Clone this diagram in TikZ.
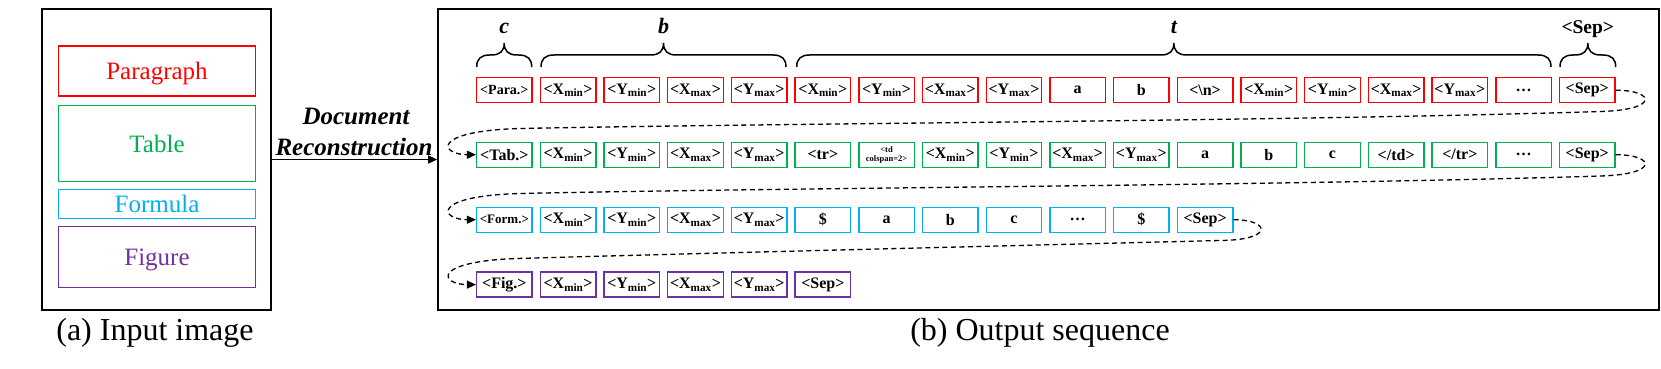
\documentclass[tikz,border=0pt]{standalone}
\usepackage{fontspec}
\setmainfont{Liberation Serif}
\usetikzlibrary{arrows.meta}
\definecolor{cred}{RGB}{255,0,0}
\definecolor{cgreen}{RGB}{0,176,80}
\definecolor{ccyan}{RGB}{0,176,240}
\definecolor{cpurple}{RGB}{112,48,160}
\newcommand{\Xmin}{<X\textsubscript{min}>}
\newcommand{\Ymin}{<Y\textsubscript{min}>}
\newcommand{\Xmax}{<X\textsubscript{max}>}
\newcommand{\Ymax}{<Y\textsubscript{max}>}
\newcommand{\paratok}{{\fontsize{14}{16}\selectfont <Para.>}}
\newcommand{\formtok}{{\fontsize{13}{15}\selectfont <Form.>}}
\newcommand{\tdcol}{{\fontsize{8.5}{9}\selectfont\shortstack{<td\\colspan=2>}}}
\newcommand{\tokbrace}[2]{%
  \draw[brc] (#1,67) .. controls (#1,59) and ({#1+4},55) .. ({#1+13},55)
    -- ({(#1+#2)/2-13},55) .. controls ({(#1+#2)/2-4},55) and ({(#1+#2)/2},51) .. ({(#1+#2)/2},43)
    .. controls ({(#1+#2)/2},51) and ({(#1+#2)/2+4},55) .. ({(#1+#2)/2+13},55)
    -- ({#2-13},55) .. controls ({#2-4},55) and (#2,59) .. (#2,67);}
\begin{document}
\begin{tikzpicture}[x=1pt,y=-1pt,
  tok/.style={draw, line width=1.4pt, minimum width=55.5pt, minimum height=25pt, inner sep=0pt, font=\fontsize{16}{18}\selectfont\bfseries},
  region/.style={draw, line width=1.4pt, minimum width=196.6pt, inner sep=0pt, text depth=0pt, font=\fontsize{25}{30}\selectfont},
  panel/.style={draw, line width=1.6pt, inner sep=0pt},
  conn/.style={line width=1.3pt, dash pattern=on 5pt off 3.5pt, -{Triangle[length=9pt,width=8pt]}},
  brc/.style={line width=1.5pt},
  blabel/.style={anchor=base, font=\fontsize{22}{26}\selectfont\bfseries\itshape},
  captxt/.style={anchor=base, font=\fontsize{32}{36}\selectfont},
]
\useasboundingbox (0,0) rectangle (1661,369);
% left panel
\node[panel, minimum width=229pt, minimum height=301pt] (inimg) at (156.5,159.5) {};
\node[region, draw=cred, text=cred, minimum height=50pt] (para) at (157,71) {Paragraph};
\node[region, draw=cgreen, text=cgreen, minimum height=75.6pt] (table) at (157,143.5) {Table};
\node[region, draw=ccyan, text=ccyan, minimum height=29pt] (formula) at (157,203.8) {Formula};
\node[region, draw=cpurple, text=cpurple, minimum height=61pt] (figure) at (157,256.8) {Figure};
\node[captxt] (capa) at (155,340) {(a) Input image};
% right panel
\node[panel, minimum width=1221pt, minimum height=301pt] (outseq) at (1048.5,159.5) {};
\node[captxt] (capb) at (1040,340) {(b) Output sequence};
% main arrow
\draw[line width=1.5pt, -{Triangle[length=9pt,width=8pt]}] (inimg) -- (outseq);
\node[anchor=base, font=\fontsize{25}{30}\selectfont\bfseries\itshape] (doc) at (356,124) {Document};
\node[anchor=base, font=\fontsize{25}{30}\selectfont\bfseries\itshape] (rec) at (354,155.5) {Reconstruction};
% rows
\foreach \lab [count=\i from 0] in {\paratok,\Xmin,\Ymin,\Xmax,\Ymax,\Xmin,\Ymin,\Xmax,\Ymax,a,b,<\textbackslash n>,\Xmin,\Ymin,\Xmax,\Ymax,\ldots,<Sep>}
  \node[tok, draw=cred] (r1b\i) at ({504.35+63.7*\i},90.2) {\lab};
\foreach \lab [count=\i from 0] in {<Tab.>,\Xmin,\Ymin,\Xmax,\Ymax,<tr>,\tdcol,\Xmin,\Ymin,\Xmax,\Ymax,a,b,c,</td>,</tr>,\ldots,<Sep>}
  \node[tok, draw=cgreen] (r2b\i) at ({504.35+63.7*\i},154.7) {\lab};
\foreach \lab [count=\i from 0] in {\formtok,\Xmin,\Ymin,\Xmax,\Ymax,\$,a,b,c,\ldots,\$,<Sep>}
  \node[tok, draw=ccyan] (r3b\i) at ({504.35+63.7*\i},219.7) {\lab};
\foreach \lab [count=\i from 0] in {<Fig.>,\Xmin,\Ymin,\Xmax,\Ymax,<Sep>}
  \node[tok, draw=cpurple] (r4b\i) at ({504.35+63.7*\i},284.6) {\lab};
% braces
\tokbrace{476.7}{531.7}
\tokbrace{541}{786}
\tokbrace{796.7}{1551}
\tokbrace{1560}{1615.7}
\node[blabel] (lc) at (504.2,34) {c};
\node[blabel] (lb) at (663.5,34) {b};
\node[blabel] (lt) at (1173.9,34) {t};
\node[anchor=base, font=\fontsize{19.5}{23}\selectfont\bfseries] (lsep) at (1587.8,34) {<Sep>};
% dashed connectors
\draw[conn] (r1b17.east) .. controls (1655,90.2) and (1660,110) .. (1600,111.5)
  .. controls (1300,121) and (800,123) .. (520,128.5)
  .. controls (430,131) and (440,154.7) .. (r2b0.west);
\draw[conn] (r2b17.east) .. controls (1655,154.7) and (1660,174.5) .. (1600,176)
  .. controls (1300,185.5) and (800,187.5) .. (520,193.5)
  .. controls (430,196) and (440,219.7) .. (r3b0.west);
\draw[conn] (r3b11.east) .. controls (1270,219.7) and (1275,240) .. (1220,240.5)
  .. controls (1000,246) and (750,252) .. (520,258.4)
  .. controls (430,261) and (440,284.6) .. (r4b0.west);
\end{tikzpicture}
\end{document}
